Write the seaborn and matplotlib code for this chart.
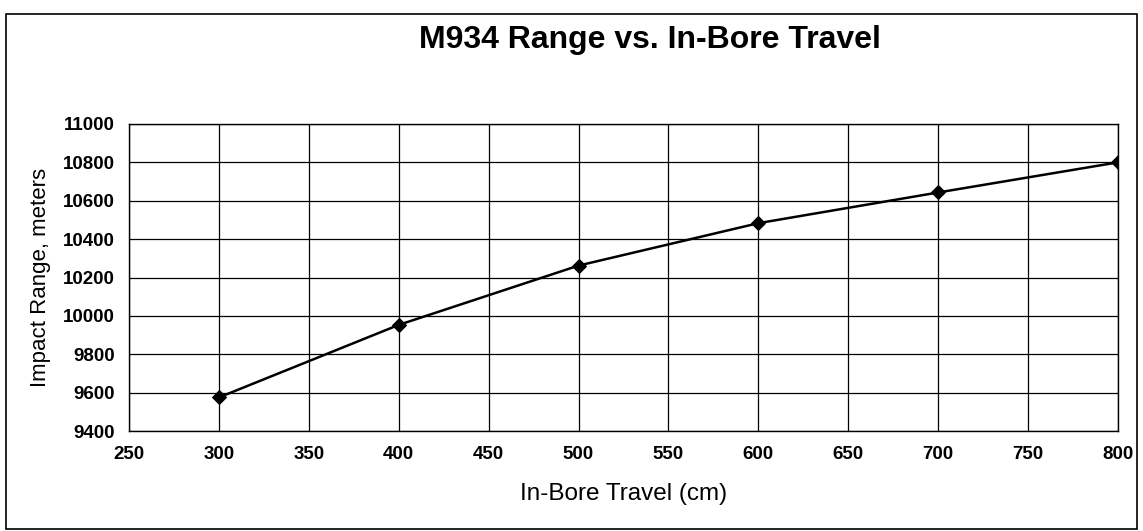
import matplotlib
matplotlib.use("Agg")
import matplotlib.pyplot as plt
import seaborn as sns
import pandas as pd
from matplotlib.patches import Rectangle

# values
travel_cm = [300, 400, 500, 600, 700, 800]
impact_range_m = [9575, 9953, 10262, 10483, 10643, 10800]
x_ticks = [250, 300, 350, 400, 450, 500, 550, 600, 650, 700, 750, 800]
y_ticks = [9400, 9600, 9800, 10000, 10200, 10400, 10600, 10800, 11000]

sns.set_theme(style="white")
plt.rcParams['font.family'] = ['Liberation Sans', 'DejaVu Sans']
plt.rcParams['text.color'] = 'black'
plt.rcParams['axes.labelcolor'] = 'black'
plt.rcParams['xtick.color'] = 'black'
plt.rcParams['ytick.color'] = 'black'

df = pd.DataFrame({"travel": travel_cm, "range": impact_range_m})

fig = plt.figure(figsize=(11.43, 5.31), dpi=100)
fig.patch.set_facecolor("white")

# outer chart border like the spreadsheet chart area
fig.patches.append(Rectangle((0.005, 0.004), 0.99, 0.97, transform=fig.transFigure,
                             fill=False, edgecolor="black", linewidth=1.2))

ax = fig.add_axes([0.1129, 0.1883, 0.8651, 0.5782])
sns.lineplot(data=df, x="travel", y="range", ax=ax, color="black", linewidth=1.8,
             marker="D", markersize=7, markeredgecolor="black", markerfacecolor="black")

ax.set_xlim(250, 800)
ax.set_ylim(9400, 11000)
ax.set_xticks(x_ticks)
ax.set_yticks(y_ticks)
ax.set_xticklabels([str(t) for t in x_ticks], fontsize=13.5, fontweight="bold")
ax.set_yticklabels([str(t) for t in y_ticks], fontsize=13.5, fontweight="bold")
ax.grid(True, color="black", linewidth=0.9)
ax.tick_params(axis="both", direction="out", length=5, width=1, color="black", pad=5)
ax.tick_params(axis="x", pad=6)
for spine in ax.spines.values():
    spine.set_color("black")
    spine.set_linewidth(1)

ax.set_xlabel("In-Bore Travel (cm)", fontsize=17.5, labelpad=14)
ax.set_ylabel("Impact Range, meters", fontsize=16, labelpad=9)
fig.text(0.569, 0.925, "M934 Range vs. In-Bore Travel", ha="center", va="center",
         fontsize=23, fontweight="bold")

fig.savefig("out.png", dpi=100)
